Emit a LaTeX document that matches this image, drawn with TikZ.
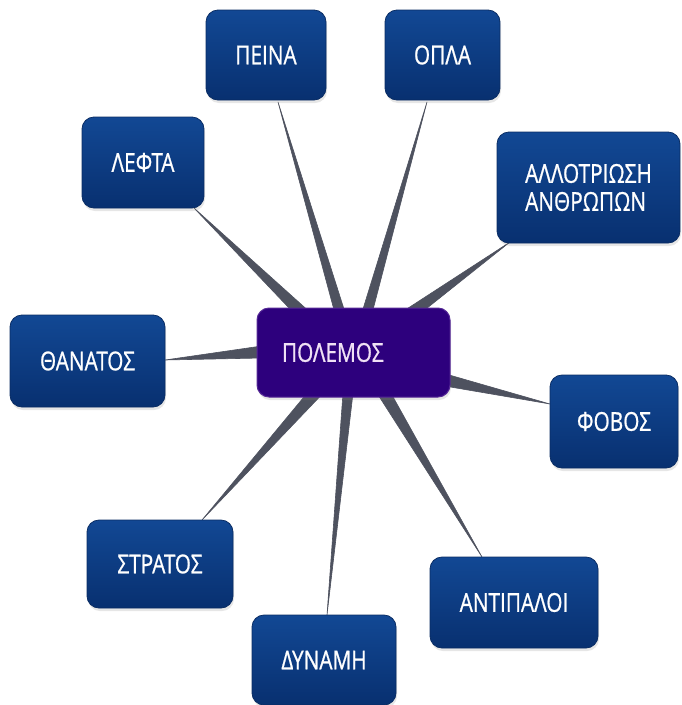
\documentclass[tikz,border=0pt]{standalone}
\usepackage{fontspec}
\setmainfont[FakeStretch=0.8,FakeBold=0.8]{Open Sans}
\usetikzlibrary{calc,shadows,backgrounds}
\definecolor{boxtop}{RGB}{18,72,148}
\definecolor{boxbot}{RGB}{8,48,112}
\definecolor{boxedge}{RGB}{10,45,100}
\definecolor{hubfill}{RGB}{45,0,125}
\definecolor{hubedge}{RGB}{85,40,150}
\definecolor{hubtext}{RGB}{240,225,245}
\definecolor{spokegray}{RGB}{78,82,95}
\tikzset{
  leaf/.style={rectangle, rounded corners=12pt, top color=boxtop, bottom color=boxbot,
    draw=boxedge, line width=0.8pt, text=white, font=\fontsize{26}{28}\selectfont,
    align=center, inner sep=0pt,
    drop shadow={opacity=0.2, shadow xshift=1pt, shadow yshift=-3pt}},
  hub/.style={rectangle, rounded corners=12pt, fill=hubfill, draw=hubedge, line width=1pt,
    text=hubtext, font=\fontsize{26}{28}\selectfont, align=left, inner xsep=25pt, inner ysep=0pt,
    drop shadow={opacity=0.2, shadow xshift=1pt, shadow yshift=-3pt}},
  spoke/.style={fill=spokegray, draw=spokegray, line width=0.6pt, line join=round}
}
\newcommand\spokewedge[3]{\fill[spoke] ($(#1)!#3!90:(#2)$) -- (#2) -- ($(#1)!#3!-90:(#2)$) -- cycle;}
\begin{document}
\begin{tikzpicture}[x=1pt,y=-1pt]
\useasboundingbox (0,0) rectangle (682,705);
\node[hub, text width=143pt, minimum height=89pt] (hub) at (353.5,352.5) {ΠΟΛΕΜΟΣ};
\node[leaf, minimum width=120pt, minimum height=90pt] (peina) at (266,55) {ΠΕΙΝΑ};
\node[leaf, minimum width=115pt, minimum height=90pt] (opla) at (442.5,55) {ΟΠΛΑ};
\node[leaf, minimum width=122pt, minimum height=91pt] (lefta) at (143,162.5) {ΛΕΦΤΑ};
\node[leaf, minimum width=183pt, minimum height=111pt, align=left] (allo) at (588.5,187.5) {ΑΛΛΟΤΡΙΩΣΗ\\ΑΝΘΡΩΠΩΝ};
\node[leaf, minimum width=155pt, minimum height=92pt] (thanatos) at (87.5,361) {ΘΑΝΑΤΟΣ};
\node[leaf, minimum width=128pt, minimum height=93pt] (fovos) at (614,421.5) {ΦΟΒΟΣ};
\node[leaf, minimum width=146pt, minimum height=88pt] (stratos) at (160,564) {ΣΤΡΑΤΟΣ};
\node[leaf, minimum width=144pt, minimum height=90pt] (dynami) at (324,660) {ΔΥΝΑΜΗ};
\node[leaf, minimum width=168pt, minimum height=91pt] (antipaloi) at (514,602.5) {ΑΝΤΙΠΑΛΟΙ};

\coordinate (hpeina) at ($(hub.center)+(-13.5,-39.5)$);
\coordinate (hopla) at ($(hub.center)+(13.5,-39.5)$);
\coordinate (hlefta) at ($(hub.center)+(-50.5,-38.5)$);
\coordinate (hallo) at ($(hub.center)+(56.5,-38.5)$);
\coordinate (hthanatos) at ($(hub.center)+(-91.5,-0.5)$);
\coordinate (hfovos) at ($(hub.center)+(91.5,27.5)$);
\coordinate (hstratos) at ($(hub.center)+(-38.5,40.5)$);
\coordinate (hdynami) at ($(hub.center)+(-5.5,40.5)$);
\coordinate (hantipaloi) at ($(hub.center)+(30.5,40.5)$);

\coordinate (tpeina) at ($(peina.center)+(12,47)$);
\coordinate (topla) at ($(opla.center)+(-15.5,47)$);
\coordinate (tlefta) at ($(lefta.center)+(51,45.5)$);
\coordinate (tallo) at ($(allo.center)+(-78.5,54.5)$);
\coordinate (tthanatos) at ($(thanatos.center)+(77.5,-1)$);
\coordinate (tfovos) at ($(fovos.center)+(-64,-17.5)$);
\coordinate (tstratos) at ($(stratos.center)+(42,-44)$);
\coordinate (tdynami) at ($(dynami.center)+(3,-45)$);
\coordinate (tantipaloi) at ($(antipaloi.center)+(-32,-45.5)$);

\begin{pgfonlayer}{background}
\spokewedge{hpeina}{tpeina}{5pt}
\spokewedge{hopla}{topla}{5pt}
\spokewedge{hlefta}{tlefta}{6pt}
\spokewedge{hallo}{tallo}{6pt}
\spokewedge{hthanatos}{tthanatos}{6pt}
\spokewedge{hfovos}{tfovos}{6pt}
\spokewedge{hstratos}{tstratos}{6pt}
\spokewedge{hdynami}{tdynami}{5pt}
\spokewedge{hantipaloi}{tantipaloi}{6pt}
\end{pgfonlayer}
\end{tikzpicture}
\end{document}
